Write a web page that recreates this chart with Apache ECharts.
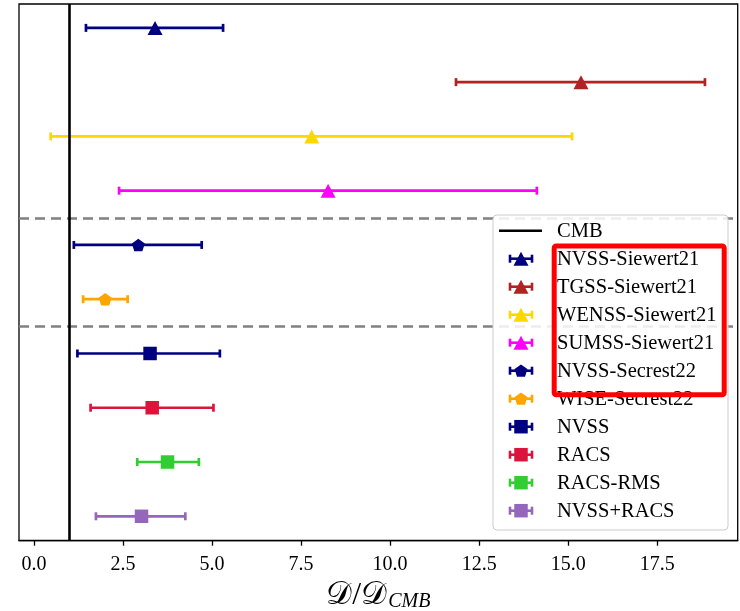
<!DOCTYPE html>
<html>
<head>
<meta charset="utf-8">
<script src="https://cdn.jsdelivr.net/npm/echarts@6/dist/echarts.min.js"></script>
<style>
  html, body { margin: 0; padding: 0; background: #fff; }
  #chart { width: 740px; height: 611px; }
</style>
</head>
<body>
<div id="chart"></div>
<script>
// Dipole amplitude ratios relative to the CMB expectation, per survey
const surveys = ['NVSS-Siewert21', 'TGSS-Siewert21', 'WENSS-Siewert21', 'SUMSS-Siewert21',
                 'NVSS-Secrest22', 'WISE-Secrest22', 'NVSS', 'RACS', 'RACS-RMS', 'NVSS+RACS'];
const centralValues = [3.40, 15.36, 7.80, 8.26, 2.93, 2.00, 3.26, 3.32, 3.75, 3.02];
const lowerBounds   = [1.46, 11.85, 0.47, 2.39, 1.12, 1.38, 1.22, 1.59, 2.90, 1.74];
const upperBounds   = [5.31, 18.84, 15.11, 14.12, 4.71, 2.63, 5.22, 5.04, 4.63, 4.25];
const surveyColors  = ['#000080', '#b22222', '#ffd700', '#ff00ff', '#000080',
                       '#ffa500', '#000080', '#dc143c', '#32cd32', '#9467bd'];
const markerKinds   = ['triangle', 'triangle', 'triangle', 'triangle', 'pentagon',
                       'pentagon', 'square', 'square', 'square', 'square'];
const cmbValue = 1;
const groupSeparators = [3.5, 5.5];
const xTickValues = [0, 2.5, 5, 7.5, 10, 12.5, 15, 17.5];

const SERIF = '"Liberation Serif", "DejaVu Serif", serif';
const PENTAGON = 'path://M0,-1 L0.951,-0.309 L0.588,0.809 L-0.588,0.809 L-0.951,-0.309 Z';

function symbolFor(kind) {
  if (kind === 'triangle') return { symbol: 'triangle', symbolSize: [15, 14] };
  if (kind === 'pentagon') return { symbol: PENTAGON, symbolSize: [13, 12.5] };
  return { symbol: 'rect', symbolSize: [13.5, 13.5] };
}

const rows = surveys.map((_, i) => i);

const errorData = rows.map(i => [lowerBounds[i], i, upperBounds[i]]);
const pointData = rows.map(i => Object.assign({
  name: surveys[i],
  value: [centralValues[i], i],
  itemStyle: { color: surveyColors[i], opacity: 1 }
}, symbolFor(markerKinds[i])));

// Legend drawn as graphic elements: CMB line, then one errorbar icon per survey
function legendGraphic() {
  const box = { left: 493, top: 215, width: 235, height: 315 };
  const children = [{
    type: 'rect', z: 100,
    shape: { x: box.left, y: box.top, width: box.width, height: box.height, r: 4 },
    style: { fill: 'rgba(255,255,255,0.85)', stroke: '#cccccc', lineWidth: 1 }
  }];
  const y0 = 230.7, step = 28;
  const textX = 557;
  const font = '20.5px ' + SERIF;
  children.push({ type: 'line', z: 101, shape: { x1: 499, y1: y0, x2: 542, y2: y0 },
                  style: { stroke: '#000', lineWidth: 2.5 } });
  children.push({ type: 'text', z: 101, style: { x: textX, y: y0 + 1, text: 'CMB', fill: '#000',
                  font, verticalAlign: 'middle' } });
  surveys.forEach((name, i) => {
    const y = y0 + step * (i + 1);
    const c = surveyColors[i];
    const ls = { stroke: c, lineWidth: 2.6 };
    children.push({ type: 'line', z: 101, shape: { x1: 510, y1: y, x2: 532, y2: y }, style: ls });
    children.push({ type: 'line', z: 101, shape: { x1: 510, y1: y - 4, x2: 510, y2: y + 4 }, style: ls });
    children.push({ type: 'line', z: 101, shape: { x1: 532, y1: y - 4, x2: 532, y2: y + 4 }, style: ls });
    const cx = 521;
    let marker;
    if (markerKinds[i] === 'triangle') {
      marker = { type: 'polygon', shape: { points: [[cx, y - 7], [cx + 7.5, y + 7], [cx - 7.5, y + 7]] } };
    } else if (markerKinds[i] === 'pentagon') {
      const pts = [];
      for (let k = 0; k < 5; k++) {
        const a = -Math.PI / 2 + k * 2 * Math.PI / 5;
        pts.push([cx + 6.8 * Math.cos(a), y + 6.8 * Math.sin(a) + 0.5]);
      }
      marker = { type: 'polygon', shape: { points: pts } };
    } else {
      marker = { type: 'rect', shape: { x: cx - 6.75, y: y - 6.75, width: 13.5, height: 13.5 } };
    }
    marker.z = 102;
    marker.style = { fill: c };
    children.push(marker);
    children.push({ type: 'text', z: 101, style: { x: textX, y: y + 1, text: name, fill: '#000',
                    font, verticalAlign: 'middle' } });
  });
  // highlight frame around the earlier survey entries
  children.push({ type: 'rect', z: 103,
                  shape: { x: 554.2, y: 246, width: 170, height: 148.8, r: 2 },
                  style: { fill: 'none', stroke: '#ff0000', lineWidth: 5 } });
  return { type: 'group', children };
}

const chart = echarts.init(document.getElementById('chart'), null, { renderer: 'canvas' });
chart.setOption({
  animation: false,
  backgroundColor: '#fff',
  grid: { left: 19, right: 2.3, top: 4, bottom: 70.3, show: true, borderColor: '#000', borderWidth: 1.3,
          containLabel: false, outerBoundsMode: 'none' },
  xAxis: {
    type: 'value', min: -0.42, max: 19.76,
    splitLine: { show: false },
    axisLine: { show: true, onZero: false, lineStyle: { color: '#000', width: 1.3 } },
    axisTick: { show: true, length: 5, customValues: xTickValues, lineStyle: { color: '#000', width: 1.3 } },
    axisLabel: {
      customValues: xTickValues, margin: 14,
      formatter: v => Number(v).toFixed(1),
      fontFamily: SERIF, fontSize: 20, color: '#000'
    },
    name: '{d|𝒟/𝒟}{s|CMB}',
    nameLocation: 'middle', nameGap: 37,
    nameTextStyle: {
      rich: {
        d: { fontFamily: SERIF, fontSize: 32, color: '#000' },
        s: { fontFamily: SERIF, fontStyle: 'italic', fontSize: 20, color: '#000', padding: [12, 0, 0, 1] }
      }
    }
  },
  yAxis: {
    type: 'value', inverse: true, min: -0.44, max: 9.45,
    axisLine: { show: false }, axisTick: { show: false }, axisLabel: { show: false },
    splitLine: { show: false }
  },
  series: [
    {
      type: 'custom',
      name: 'errorbars',
      encode: { x: [0, 2], y: 1 },
      data: errorData,
      z: 2,
      renderItem(params, api) {
        const lo = api.coord([api.value(0), api.value(1)]);
        const hi = api.coord([api.value(2), api.value(1)]);
        const style = { stroke: surveyColors[params.dataIndex], lineWidth: 2.7, fill: null };
        return {
          type: 'group',
          children: [
            { type: 'line', shape: { x1: lo[0], y1: lo[1], x2: hi[0], y2: hi[1] }, style },
            { type: 'line', shape: { x1: lo[0], y1: lo[1] - 4, x2: lo[0], y2: lo[1] + 4 }, style },
            { type: 'line', shape: { x1: hi[0], y1: hi[1] - 4, x2: hi[0], y2: hi[1] + 4 }, style }
          ]
        };
      },
      markLine: {
        silent: true, symbol: 'none', label: { show: false },
        lineStyle: { color: '#808080', width: 2.5, type: [10, 6] },
        data: groupSeparators.map(v => ({ yAxis: v }))
      }
    },
    {
      type: 'scatter',
      name: 'points',
      data: pointData,
      z: 3,
      markLine: {
        silent: true, symbol: 'none', label: { show: false }, z: 5,
        lineStyle: { color: '#000', width: 2.6, type: 'solid' },
        data: [{ xAxis: cmbValue }]
      }
    }
  ],
  graphic: [legendGraphic()]
});
</script>
</body>
</html>
